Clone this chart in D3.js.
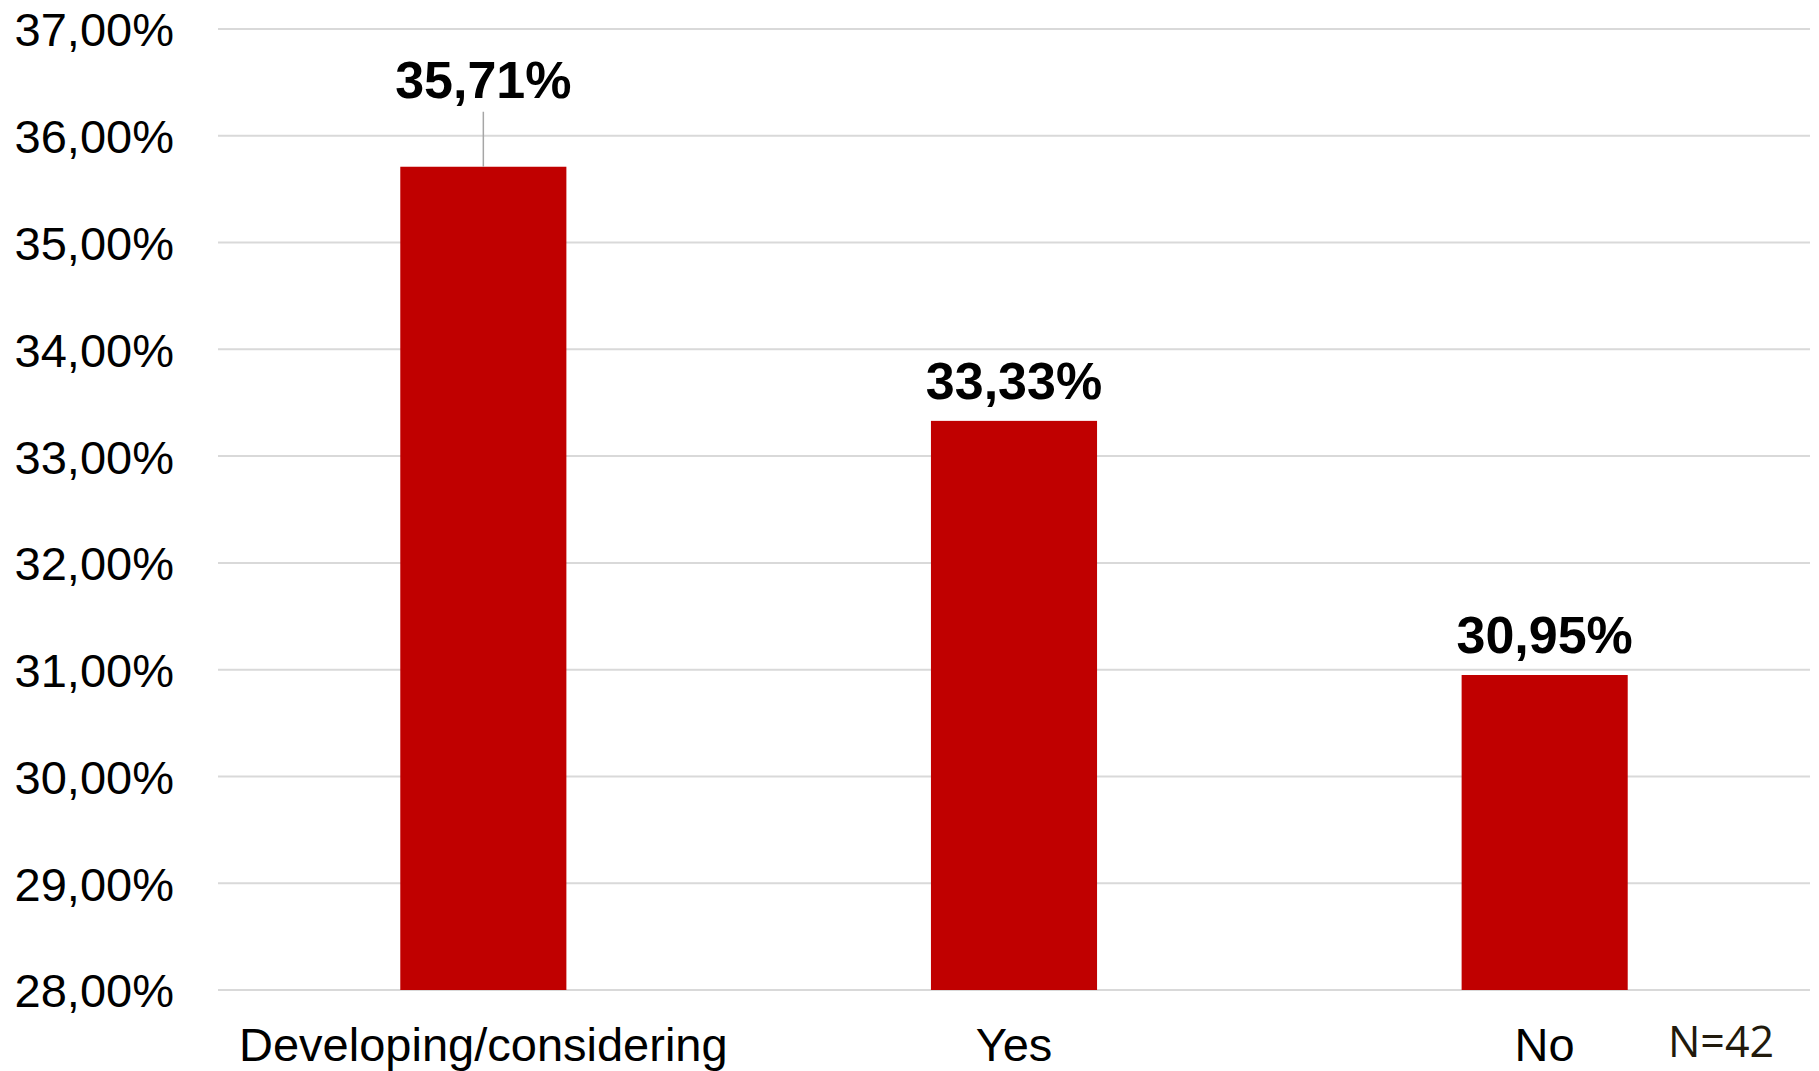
<!DOCTYPE html>
<html>
<head>
<meta charset="utf-8">
<script src="https://cdn.jsdelivr.net/npm/d3@7"></script>
<style>
  html, body { margin: 0; padding: 0; background: #ffffff; }
  svg { display: block; }
</style>
</head>
<body>
<svg id="chart" width="1819" height="1071"></svg>
<script>
// Survey answers and their shares
const categories = ["Developing/considering", "Yes", "No"];
const shares = [0.3571, 0.3333, 0.3095];
const yTicks = [0.28, 0.29, 0.30, 0.31, 0.32, 0.33, 0.34, 0.35, 0.36, 0.37];
const sampleNote = "N=42";

const W = 1819, H = 1071;
const plot = { left: 218, right: 1810, top: 29, bottom: 990 };

const svg = d3.select("#chart");

// Percent format with a decimal comma
const locale = d3.formatLocale({ decimal: ",", thousands: ".", grouping: [3], currency: ["", "€"] });
const pct = locale.format(".2%");

const x = d3.scaleBand().domain(categories).range([plot.left, plot.right]).padding(0);
const barW = x.bandwidth() * 0.313;
const y = d3.scaleLinear().domain([0.28, 0.37]).range([plot.bottom, plot.top]);

// Horizontal gridlines
svg.append("g")
  .selectAll("line")
  .data(yTicks)
  .join("line")
  .attr("x1", plot.left).attr("x2", plot.right)
  .attr("y1", d => y(d)).attr("y2", d => y(d))
  .attr("stroke", "#d9d9d9").attr("stroke-width", 2);

// Value axis labels
const yAxis = svg.append("g")
  .attr("transform", `translate(${plot.left},0)`)
  .call(d3.axisLeft(y).tickValues(yTicks).tickFormat(pct).tickSize(0).tickPadding(44));
yAxis.select(".domain").remove();
yAxis.selectAll("text")
  .attr("font-family", "Liberation Sans, Arial, sans-serif")
  .attr("font-size", 47)
  .attr("fill", "#000")
  .attr("dy", "0.36em");

// Bars
svg.append("g")
  .selectAll("rect")
  .data(shares)
  .join("rect")
  .attr("x", (d, i) => x(categories[i]) + (x.bandwidth() - barW) / 2)
  .attr("width", barW)
  .attr("y", d => y(d))
  .attr("height", d => y(0.28) - y(d))
  .attr("fill", "#c00000");

// Data labels; the first one sits higher and is tied to its bar by a leader line
const lift = (i) => i === 0 ? 69 : 22;
svg.append("g")
  .selectAll("line")
  .data(shares.filter((d, i) => i === 0))
  .join("line")
  .attr("x1", x(categories[0]) + x.bandwidth() / 2)
  .attr("x2", x(categories[0]) + x.bandwidth() / 2)
  .attr("y1", d => y(d) - 55)
  .attr("y2", d => y(d))
  .attr("stroke", "#a6a6a6").attr("stroke-width", 1.5);

svg.append("g")
  .selectAll("text")
  .data(shares)
  .join("text")
  .attr("x", (d, i) => x(categories[i]) + x.bandwidth() / 2)
  .attr("y", (d, i) => y(d) - lift(i))
  .attr("text-anchor", "middle")
  .attr("font-family", "Liberation Sans, Arial, sans-serif")
  .attr("font-weight", "bold")
  .attr("font-size", 52)
  .attr("fill", "#000")
  .text(d => pct(d));

// Category axis labels
const xAxis = svg.append("g")
  .attr("transform", `translate(0,${plot.bottom})`)
  .call(d3.axisBottom(x).tickSize(0).tickPadding(0));
xAxis.select(".domain").remove();
xAxis.selectAll("text")
  .attr("font-family", "Liberation Sans, Arial, sans-serif")
  .attr("font-size", 47)
  .attr("fill", "#000")
  .attr("dy", 0)
  .attr("y", 71);

// Sample size note
svg.append("text")
  .attr("x", 1721)
  .attr("y", 1057)
  .attr("text-anchor", "middle")
  .attr("font-family", "Open Sans, Noto Sans, sans-serif")
  .attr("font-size", 43)
  .attr("fill", "#211a0c")
  .text(sampleNote);
</script>
</body>
</html>
